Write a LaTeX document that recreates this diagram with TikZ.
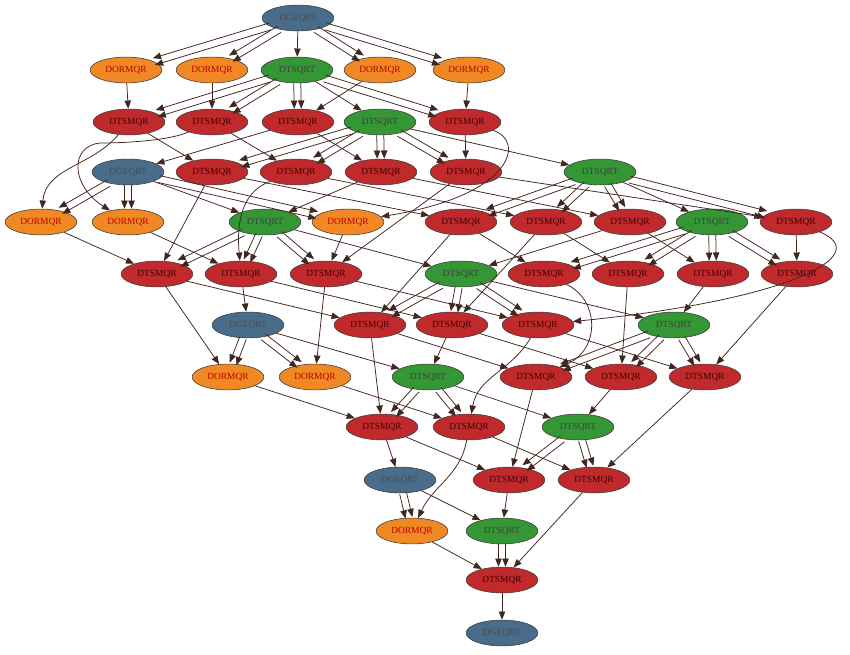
\documentclass[tikz,border=0pt]{standalone}
\usepackage{fontspec}
\setmainfont{Liberation Serif}
\usetikzlibrary{shapes.geometric,arrows.meta}

\definecolor{geqrtblue}{RGB}{72,108,138}
\definecolor{ormqrorange}{RGB}{240,137,36}
\definecolor{tsqrtgreen}{RGB}{52,150,52}
\definecolor{tsmqrred}{RGB}{192,42,44}
\definecolor{depbrown}{RGB}{66,38,32}

\tikzset{
  task/.style={ellipse, draw=black!75, line width=0.5pt, minimum width=61pt,
    minimum height=22pt, inner sep=0pt, font=\fontsize{8}{9}\selectfont},
  geqrt/.style={task, fill=geqrtblue, text=black!70},
  ormqr/.style={task, fill=ormqrorange, text=red!75!black},
  tsqrt/.style={task, fill=tsqrtgreen, text=black!75},
  tsmqr/.style={task, fill=tsmqrred, text=black!75!red},
  dep/.style={draw=depbrown, line width=0.65pt, -{Triangle[length=7pt,width=5.5pt]}},
}

% one dependency, and two data dependencies between the same tasks
\newcommand\onedep[2]{\draw[dep] (#1) -- (#2);}
\newcommand\twodep[2]{%
  \pgfmathanglebetweenpoints{\pgfpointanchor{#1}{center}}{\pgfpointanchor{#2}{center}}%
  \let\deptilt\pgfmathresult
  \draw[dep, transform canvas={shift={(\deptilt+90:3pt)}}] (#1) -- (#2);
  \draw[dep, transform canvas={shift={(\deptilt-90:3pt)}}] (#1) -- (#2);
}

\begin{document}
\begin{tikzpicture}[x=0.85pt, y=-0.85pt]
    \useasboundingbox (0,0) rectangle (850,655);

    % Panel k = 0
    \node[geqrt] (g0) at (298,18) {DGEQRT};
    \node[ormqr] (o03) at (126,70) {DORMQR};
    \node[ormqr] (o02) at (212,70) {DORMQR};
    \node[tsqrt] (q10) at (297,70) {DTSQRT};
    \node[ormqr] (o01) at (380,70) {DORMQR};
    \node[ormqr] (o04) at (469,70) {DORMQR};
    \node[tsmqr] (m130) at (129,122) {DTSMQR};
    \node[tsmqr] (m120) at (212,122) {DTSMQR};
    \node[tsmqr] (m110) at (298,122) {DTSMQR};
    \node[tsqrt] (q20) at (380,122) {DTSQRT};
    \node[tsmqr] (m140) at (465,122) {DTSMQR};
    \node[tsmqr] (m230) at (212,172) {DTSMQR};
    \node[tsmqr] (m220) at (296,172) {DTSMQR};
    \node[tsmqr] (m210) at (381,172) {DTSMQR};
    \node[tsmqr] (m240) at (466,172) {DTSMQR};
    \node[tsqrt] (q30) at (600,172) {DTSQRT};
    \node[tsmqr] (m330) at (461,222) {DTSMQR};
    \node[tsmqr] (m320) at (546,222) {DTSMQR};
    \node[tsmqr] (m310) at (630,222) {DTSMQR};
    \node[tsqrt] (q40) at (712,222) {DTSQRT};
    \node[tsmqr] (m340) at (796,222) {DTSMQR};
    \node[tsmqr] (m430) at (544,274) {DTSMQR};
    \node[tsmqr] (m420) at (628,274) {DTSMQR};
    \node[tsmqr] (m410) at (713,274) {DTSMQR};
    \node[tsmqr] (m440) at (797,274) {DTSMQR};

    % Panel k = 1
    \node[geqrt] (g1) at (128,172) {DGEQRT};
    \node[ormqr] (o13) at (41,222) {DORMQR};
    \node[ormqr] (o12) at (128,222) {DORMQR};
    \node[tsqrt] (q21) at (265,222) {DTSQRT};
    \node[ormqr] (o14) at (348,222) {DORMQR};
    \node[tsmqr] (m231) at (157,274) {DTSMQR};
    \node[tsmqr] (m221) at (241,274) {DTSMQR};
    \node[tsmqr] (m241) at (326,274) {DTSMQR};
    \node[tsqrt] (q31) at (461,274) {DTSQRT};
    \node[tsmqr] (m331) at (370,325) {DTSMQR};
    \node[tsmqr] (m321) at (452,325) {DTSMQR};
    \node[tsmqr] (m341) at (538,325) {DTSMQR};
    \node[tsqrt] (q41) at (674,325) {DTSQRT};
    \node[tsmqr] (m431) at (536,377) {DTSMQR};
    \node[tsmqr] (m421) at (621,377) {DTSMQR};
    \node[tsmqr] (m441) at (705,377) {DTSMQR};

    % Panel k = 2
    \node[geqrt] (g2) at (248,325) {DGEQRT};
    \node[ormqr] (o23) at (228,377) {DORMQR};
    \node[ormqr] (o24) at (315,377) {DORMQR};
    \node[tsqrt] (q32) at (428,377) {DTSQRT};
    \node[tsmqr] (m332) at (382,427) {DTSMQR};
    \node[tsmqr] (m342) at (469,427) {DTSMQR};
    \node[tsqrt] (q42) at (578,427) {DTSQRT};
    \node[tsmqr] (m432) at (509,480) {DTSMQR};
    \node[tsmqr] (m442) at (594,480) {DTSMQR};

    % Panel k = 3 and last factorisation
    \node[geqrt] (g3) at (400,480) {DGEQRT};
    \node[ormqr] (o34) at (412,531) {DORMQR};
    \node[tsqrt] (q43) at (502,531) {DTSQRT};
    \node[tsmqr] (m443) at (502,580) {DTSMQR};
    \node[geqrt] (g4) at (502,633) {DGEQRT};

    % Dependencies, k = 0
    \twodep{g0}{o01} \twodep{g0}{o02} \twodep{g0}{o03} \twodep{g0}{o04}
    \onedep{g0}{q10} \onedep{q10}{q20} \onedep{q20}{q30} \onedep{q30}{q40}
    \twodep{q10}{m110} \twodep{q10}{m120} \twodep{q10}{m130} \twodep{q10}{m140}
    \twodep{q20}{m210} \twodep{q20}{m220} \twodep{q20}{m230} \twodep{q20}{m240}
    \twodep{q30}{m310} \twodep{q30}{m320} \twodep{q30}{m330} \twodep{q30}{m340}
    \twodep{q40}{m410} \twodep{q40}{m420} \twodep{q40}{m430} \twodep{q40}{m440}
    \onedep{o01}{m110} \onedep{o02}{m120} \onedep{o03}{m130} \onedep{o04}{m140}
    \onedep{m110}{m210} \onedep{m120}{m220} \onedep{m130}{m230} \onedep{m140}{m240}
    \onedep{m210}{m310} \onedep{m220}{m320} \onedep{m230}{m330} \onedep{m240}{m340}
    \onedep{m310}{m410} \onedep{m320}{m420} \onedep{m330}{m430} \onedep{m340}{m440}

    % k = 0 -> k = 1
    \onedep{m110}{g1}
    \draw[dep] (m120) .. controls (170,140) and (130,143) .. (100,143)
                      .. controls (70,146) and (70,185) .. (o12);
    \draw[dep] (m130) to[out=230,in=85] (o13);
    \draw[dep] (m140) .. controls (525,140) and (515,195) .. (o14);
    \onedep{m210}{q21}
    \draw[dep] (m220) to[out=200,in=95] (m221);
    \onedep{m230}{m231} \onedep{m240}{m241}
    \onedep{m310}{q31} \onedep{m320}{m321} \onedep{m330}{m331}
    \draw[dep] (m340) .. controls (875,255) and (790,300) .. (m341);
    \onedep{m410}{q41} \onedep{m420}{m421} \onedep{m440}{m441}
    \draw[dep] (m430) .. controls (600,300) and (600,350) .. (m431);

    % Dependencies, k = 1
    \twodep{g1}{o12} \twodep{g1}{o13} \twodep{g1}{o14}
    \onedep{g1}{q21} \onedep{q21}{q31} \onedep{q31}{q41}
    \twodep{q21}{m221} \twodep{q21}{m231} \twodep{q21}{m241}
    \twodep{q31}{m321} \twodep{q31}{m331} \twodep{q31}{m341}
    \twodep{q41}{m421} \twodep{q41}{m431} \twodep{q41}{m441}
    \onedep{o12}{m221} \onedep{o13}{m231} \onedep{o14}{m241}
    \onedep{m221}{m321} \onedep{m231}{m331} \onedep{m241}{m341}
    \onedep{m321}{m421} \onedep{m331}{m431} \onedep{m341}{m441}

    % k = 1 -> k = 2
    \onedep{m221}{g2} \onedep{m231}{o23} \onedep{m241}{o24}
    \onedep{m321}{q32} \onedep{m331}{m332}
    \draw[dep] (m341) to[out=-120,in=80] (m342);
    \onedep{m421}{q42} \onedep{m431}{m432} \onedep{m441}{m442}

    % Dependencies, k = 2
    \twodep{g2}{o23} \twodep{g2}{o24} \onedep{g2}{q32} \onedep{q32}{q42}
    \twodep{q32}{m332} \twodep{q32}{m342} \twodep{q42}{m432} \twodep{q42}{m442}
    \onedep{o23}{m332} \onedep{o24}{m342}
    \onedep{m332}{m432} \onedep{m342}{m442}

    % k = 2 -> k = 3, and the end
    \onedep{m332}{g3}
    \draw[dep] (m342) to[out=-100,in=65] (o34);
    \onedep{m432}{q43} \onedep{m442}{m443}
    \twodep{g3}{o34} \onedep{g3}{q43} \twodep{q43}{m443} \onedep{o34}{m443}
    \onedep{m443}{g4}
\end{tikzpicture}
\end{document}
